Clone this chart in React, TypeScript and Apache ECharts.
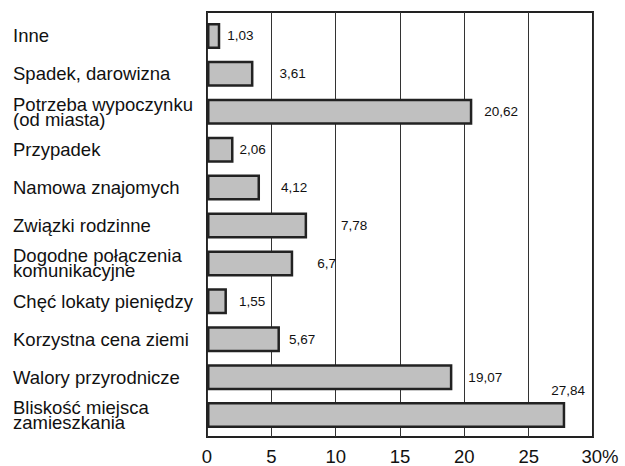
import React, { useEffect, useRef } from "react";
import * as echarts from "echarts";

const categories = [
  "Inne",
  "Spadek, darowizna",
  "Potrzeba wypoczynku\n(od miasta)",
  "Przypadek",
  "Namowa znajomych",
  "Związki rodzinne",
  "Dogodne połączenia\nkomunikacyjne",
  "Chęć lokaty pieniędzy",
  "Korzystna cena ziemi",
  "Walory przyrodnicze",
  "Bliskość miejsca\nzamieszkania",
];

const values = [1.03, 3.61, 20.62, 2.06, 4.12, 7.78, 6.7, 1.55, 5.67, 19.07, 27.84];

// distance of each value label from the end of its bar (px); -1 = above bar end
const labelGaps = [7, 26, 12, 6, 21, 34, 24, 12, 9, 16, -1];

const xTicks = [0, 5, 10, 15, 20, 25, 30];

const FONT = "'Liberation Sans', Arial, sans-serif";

const fmt = (v: number) => String(v).replace(".", ",");

export default function App() {
  const ref = useRef<HTMLDivElement>(null);
  useEffect(() => {
    if (!ref.current) return;
    const chart = echarts.init(ref.current, undefined, { renderer: "svg" });
    const data = values.map((v, i) => {
      const gap = labelGaps[i];
      const label =
        gap < 0
          ? {
              show: true,
              position: ["100%", -5] as any,
              align: "center",
              verticalAlign: "bottom",
              offset: [3, 0],
            }
          : { show: true, position: "right", distance: gap };
      return { value: v, label };
    });
    chart.setOption({
      animation: false,
      backgroundColor: "#ffffff",
      grid: [
        {
          left: 207,
          right: 32,
          top: 12,
          bottom: 27,
          show: true,
          borderColor: "#222",
          borderWidth: 2,
          backgroundColor: "transparent",
        },
        { left: 207, right: 32, top: 17, bottom: 32 },
      ],
      xAxis: [
        {
          gridIndex: 0,
          type: "value",
          min: xTicks[0],
          max: xTicks[xTicks.length - 1],
          interval: 5,
          axisLine: { show: false },
          axisTick: { show: false },
          splitLine: { show: true, lineStyle: { color: "#333", width: 1 } },
          axisLabel: {
            margin: 10,
            fontSize: 18.5,
            color: "#111",
            fontFamily: FONT,
            formatter: (v: number) => (v === 30 ? "{p|}30%" : String(v)),
            rich: { p: { width: 14 } },
          },
        },
        {
          gridIndex: 1,
          type: "value",
          min: xTicks[0],
          max: xTicks[xTicks.length - 1],
          show: false,
        },
      ],
      yAxis: [
        { gridIndex: 0, type: "value", min: 0, max: 1, show: false },
        {
          gridIndex: 1,
          type: "category",
          inverse: true,
          data: categories,
          axisLine: { show: false },
          axisTick: { show: false },
          splitLine: { show: false },
          axisLabel: {
            align: "left",
            margin: 194,
            fontSize: 18.5,
            lineHeight: 15,
            color: "#111",
            fontFamily: FONT,
          },
        },
      ],
      series: [
        {
          type: "bar",
          xAxisIndex: 1,
          yAxisIndex: 1,
          data,
          barWidth: 26,
          itemStyle: {
            color: "#c0c0c0",
            borderColor: "#222",
            borderWidth: 2.5,
          },
          label: {
            show: true,
            fontSize: 13.5,
            color: "#111",
            fontFamily: FONT,
            formatter: (p: any) => fmt(p.value),
          },
        },
      ],
    });
    return () => chart.dispose();
  }, []);
  return (
    <div
      ref={ref}
      style={{ position: "absolute", left: 0, top: 0, width: 625, height: 466 }}
    />
  );
}
